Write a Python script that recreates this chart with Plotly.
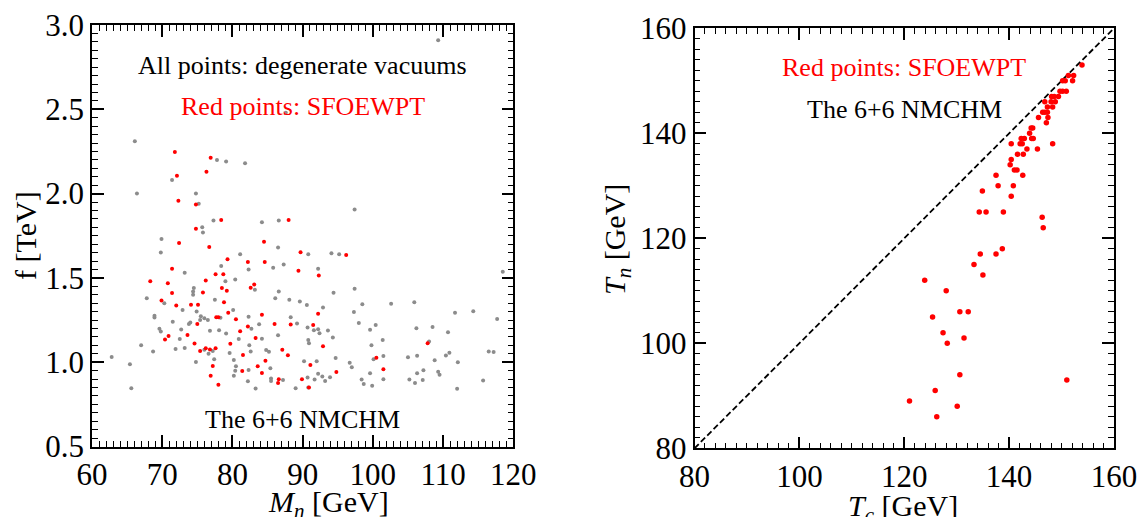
import plotly.graph_objects as go

# ---- left panel: scan points in the (M_n, f) plane ----
# all points (degenerate vacuums)
mn_all = [66.1, 77.8, 79.1, 81.8, 71.4, 66.4, 74.8, 75.2, 77.3, 84.2, 86.6, 75.7, 75.8, 69.9, 86.5,
          69.8, 90.8, 81.1, 78.4, 87.3, 85.8, 82.3, 73.2, 79.0, 80.4, 83.2, 74.5, 74.4, 74.4, 86.6,
          67.8, 77.5, 86.1, 88.1,
          70.3, 72.9, 74.9, 80.1, 89.6, 90.6, 68.9, 68.9, 71.5, 74.0, 73.8, 75.5, 76.0, 75.4, 76.5,
          78.3, 82.3, 83.8, 88.3, 89.2, 90.7, 69.6, 69.8, 72.7, 76.8, 78.1, 82.7, 79.1, 86.5, 72.5,
          80.9, 84.2, 90.8, 67.0, 82.4, 68.7, 71.9, 73.2, 76.0, 77.2, 76.6, 79.6, 82.6, 84.8, 85.2,
          62.8, 74.8, 77.4, 80.2, 90.2, 65.4, 80.5, 80.4, 82.3, 85.4, 80.2, 85.5, 85.5, 87.2, 90.7,
          82.2, 65.6, 83.3, 89.0,
          97.4, 94.1, 95.2, 92.2, 94.4, 97.4, 118.5, 109.3, 87.6,
          92.9, 98.5, 97.3, 102.6, 105.9, 111.7, 114.3, 117.7, 91.6, 92.2, 92.4, 93.6, 94.3, 98.0,
          99.6, 100.4, 90.9, 99.8, 101.4, 106.2, 108.5, 110.7, 108.0, 116.5, 117.2, 110.9, 110.4,
          106.3, 105.0, 108.8, 112.1, 92.0, 94.7, 96.7, 97.0, 100.1, 101.5, 101.5, 92.2, 92.8, 91.7,
          93.2, 93.9, 90.8, 98.4, 98.7, 99.6, 99.9, 105.2, 106.0, 106.3, 107.2, 107.1, 109.3, 109.5,
          112.0, 115.7]
f_all = [2.31, 2.20, 2.19, 2.18, 2.08, 2.00, 2.00, 1.94, 1.84, 1.83, 1.84, 1.80, 1.77, 1.73, 1.68,
         1.65, 1.64, 1.64, 1.57, 1.58, 1.56, 1.55, 1.53, 1.48, 1.49, 1.43, 1.44, 1.42, 1.40, 1.42,
         1.38, 1.37, 1.38, 1.37,
         1.35, 1.31, 1.30, 1.31, 1.36, 1.34, 1.275, 1.265, 1.24, 1.235, 1.227, 1.272, 1.26, 1.25, 1.25,
         1.263, 1.27, 1.225, 1.267, 1.229, 1.206, 1.198, 1.182, 1.194, 1.186, 1.19, 1.198, 1.17, 1.16, 1.137,
         1.137, 1.139, 1.131, 1.101, 1.101, 1.064, 1.078, 1.084, 1.074, 1.066, 1.05, 1.054, 1.064, 1.072, 1.062,
         1.031, 1.001, 1.017, 1.013, 1.005, 0.988, 0.976, 0.95, 0.954, 0.964, 0.919, 0.903, 0.889, 0.895, 0.909,
         0.887, 0.846, 0.844, 0.846,
         1.905, 1.646, 1.64, 1.555, 1.412, 1.436, 1.536, 2.91, 2.48,
         1.324, 1.343, 1.298, 1.347, 1.355, 1.294, 1.302, 1.256, 1.19, 1.196, 1.172, 1.188, 1.147, 1.233,
         1.192, 1.221, 1.113, 1.101, 1.131, 1.202, 1.209, 1.178, 1.123, 1.064, 1.06, 1.056, 1.04,
         1.038, 1.029, 1.011, 0.999, 1.005, 1.025, 0.997, 0.97, 1.017, 1.037, 0.899, 0.932, 0.915, 0.897,
         0.889, 0.911, 0.85, 0.897, 0.871, 0.934, 0.861, 0.897, 0.877, 0.934, 0.952, 0.895, 0.944, 0.926,
         0.842, 0.891]

# points with a strong first-order electroweak phase transition
mn_sfo = [71.8, 76.9, 76.3, 72.1, 72.3, 74.8, 78.4, 88.0, 74.8, 72.4, 76.7, 84.5, 89.7, 79.3, 82.2,
          84.6, 71.4, 89.4, 77.6, 78.7, 68.3, 70.8, 76.2, 83.1, 82.6, 78.5, 79.2, 71.4, 75.8, 69.9,
          72.0, 74.1, 75.1, 79.4, 78.8, 75.0, 77.7, 78.0, 80.5, 82.2, 84.2, 86.0, 88.3, 81.1, 70.9,
          70.4, 73.6, 83.3, 74.6, 79.7, 75.4, 76.2, 76.8, 77.6, 81.5, 87.1, 87.9, 84.7, 91.1, 77.2,
          83.6, 81.4, 84.2, 76.9, 86.6, 86.5, 89.9, 78.0, 90.9,
          96.2, 92.3, 92.2, 91.5, 92.9, 107.8, 100.5, 101.5, 94.8]
f_sfo = [2.247, 2.212, 2.13, 2.106, 1.958, 1.935, 1.844, 1.844, 1.791, 1.707, 1.683, 1.715, 1.652, 1.61, 1.595,
         1.595, 1.555, 1.542, 1.522, 1.522, 1.48, 1.469, 1.485, 1.461, 1.442, 1.44, 1.424, 1.41, 1.414, 1.366,
         1.336, 1.341, 1.341, 1.294, 1.355, 1.227, 1.267, 1.267, 1.255, 1.212, 1.282, 1.227, 1.223, 1.184, 1.156,
         1.135, 1.162, 1.143, 1.111, 1.109, 1.066, 1.082, 1.076, 1.082, 1.042, 1.074, 1.041, 1.009, 0.983, 0.978,
         0.976, 0.948, 0.936, 0.92, 0.899, 0.876, 0.899, 0.866, 0.85,
         1.636, 1.514, 1.288, 1.221, 1.094, 1.113, 1.027, 0.958, 0.942]

# ---- right panel: critical vs nucleation temperature (GeV) ----
t_c = [153.9, 151.3, 152.3, 150.2, 150.7, 152.1, 149.7, 150.2, 150.9, 149.4, 148.1, 148.6, 148.0, 148.8,
       146.8, 148.3, 147.3, 146.4, 146.8, 147.3, 145.6, 147.4, 147.1, 144.2, 144.5, 143.9, 142.3, 142.9,
       144.3, 144.6, 140.4, 142.1, 142.5, 148.3, 143.4, 145.4, 141.6, 142.7, 140.4, 140.2, 141.0, 141.5,
       137.5, 142.6, 137.9, 140.8, 134.9, 140.4, 134.3, 135.6, 138.9, 146.3, 146.5, 138.7, 134.5, 137.5,
       133.3, 135.0, 123.9, 128.0, 130.6, 132.2, 125.4, 127.4, 131.4, 128.2, 130.6, 151.0, 125.9, 121.0,
       130.1, 126.2]
t_n = [153, 151, 151, 150, 150, 150, 148, 148, 148, 147, 147, 147, 146, 146,
       146, 145, 145, 144, 144, 144, 143, 143, 142, 141, 141, 140, 139, 139,
       139, 139, 138, 138, 138, 138, 137, 137, 136, 136, 135, 134, 133, 133,
       132, 132, 130, 130, 129, 128, 125, 125, 125, 124, 122, 118, 117, 117,
       115, 113, 112, 110, 106, 106, 105, 102, 101, 100, 94, 93, 91, 89,
       88, 86]
diag = [80, 160]

SERIF = "Liberation Serif"
GRAY = "#8c8c8c"
RED = "#ff0000"

fig = go.Figure()
fig.add_trace(go.Scatter(x=mn_all, y=f_all, mode="markers", xaxis="x", yaxis="y",
                         marker=dict(color=GRAY, size=4, line=dict(width=0)), showlegend=False))
fig.add_trace(go.Scatter(x=mn_sfo, y=f_sfo, mode="markers", xaxis="x", yaxis="y",
                         marker=dict(color=RED, size=4, line=dict(width=0)), showlegend=False))
fig.add_trace(go.Scatter(x=diag, y=diag, mode="lines", xaxis="x2", yaxis="y2",
                         line=dict(color="black", width=1.8, dash="6px,3px"), showlegend=False))
fig.add_trace(go.Scatter(x=t_c, y=t_n, mode="markers", xaxis="x2", yaxis="y2",
                         marker=dict(color=RED, size=5.5, line=dict(width=0)), showlegend=False))


def frame_axis(rng, dtick, minor_dtick, domain, anchor, fmt=None):
    ax = dict(range=rng, dtick=dtick, tick0=rng[0], domain=domain, anchor=anchor,
              automargin=False,
              showline=True, linecolor="black", linewidth=1.5, mirror="allticks",
              ticks="inside", ticklen=12, tickwidth=1.5, tickcolor="black",
              showgrid=False, zeroline=False,
              tickfont=dict(family=SERIF, size=31, color="black"),
              minor=dict(ticks="inside", ticklen=6, tickwidth=1.2, tickcolor="black",
                         dtick=minor_dtick, tick0=rng[0], showgrid=False))
    if fmt:
        ax["tickformat"] = fmt
    return ax


W, H = 1141, 517
fig.update_layout(
    template="none",
    width=W, height=H, margin=dict(l=0, r=0, t=0, b=0, pad=0),
    paper_bgcolor="white", plot_bgcolor="white",
    xaxis=frame_axis([60, 120], 10, 1, [92 / W, 513.3 / W], "y"),
    yaxis=frame_axis([0.5, 3.0], 0.5, 0.05, [1 - 446.5 / H, 1 - 25 / H], "x", ".1f"),
    xaxis2=frame_axis([80, 160], 20, 2, [694.5 / W, 1114 / W], "y2"),
    yaxis2=frame_axis([80, 160], 20, 2, [1 - 448.3 / H, 1 - 28.3 / H], "x2"),
)

txt = dict(family=SERIF, size=26, color="black")
red_txt = dict(family=SERIF, size=26, color=RED)
title_font = dict(family=SERIF, size=30, color="black")
annotations = [
    dict(text="All points: degenerate vacuums", x=90, y=2.757, xref="x", yref="y", font=txt),
    dict(text="Red points: SFOEWPT", x=90, y=2.514, xref="x", yref="y", font=red_txt),
    dict(text="The 6+6 NMCHM", x=90, y=0.663, xref="x", yref="y", font=txt),
    dict(text="Red points: SFOEWPT", x=120, y=152.5, xref="x2", yref="y2", font=red_txt),
    dict(text="The 6+6 NMCHM", x=120, y=144.6, xref="x2", yref="y2", font=txt),
    dict(text="f [TeV]", x=25 / W, y=1 - 236 / H, xref="paper", yref="paper",
         textangle=-90, font=title_font),
    dict(text="<i>M</i><sub><i>n</i></sub> [GeV]", x=328 / W, y=1 - 504 / H,
         xref="paper", yref="paper", font=title_font),
    dict(text="<i>T</i><sub><i>n</i></sub> [GeV]", x=617 / W, y=1 - 240 / H,
         xref="paper", yref="paper", textangle=-90, font=title_font),
    dict(text="<i>T</i><sub><i>c</i></sub> [GeV]", x=903 / W, y=1 - 508 / H,
         xref="paper", yref="paper", font=title_font),
]
for a in annotations:
    a.update(showarrow=False, xanchor="center", yanchor="middle")
fig.update_layout(annotations=annotations)

fig.write_html("out.html")
